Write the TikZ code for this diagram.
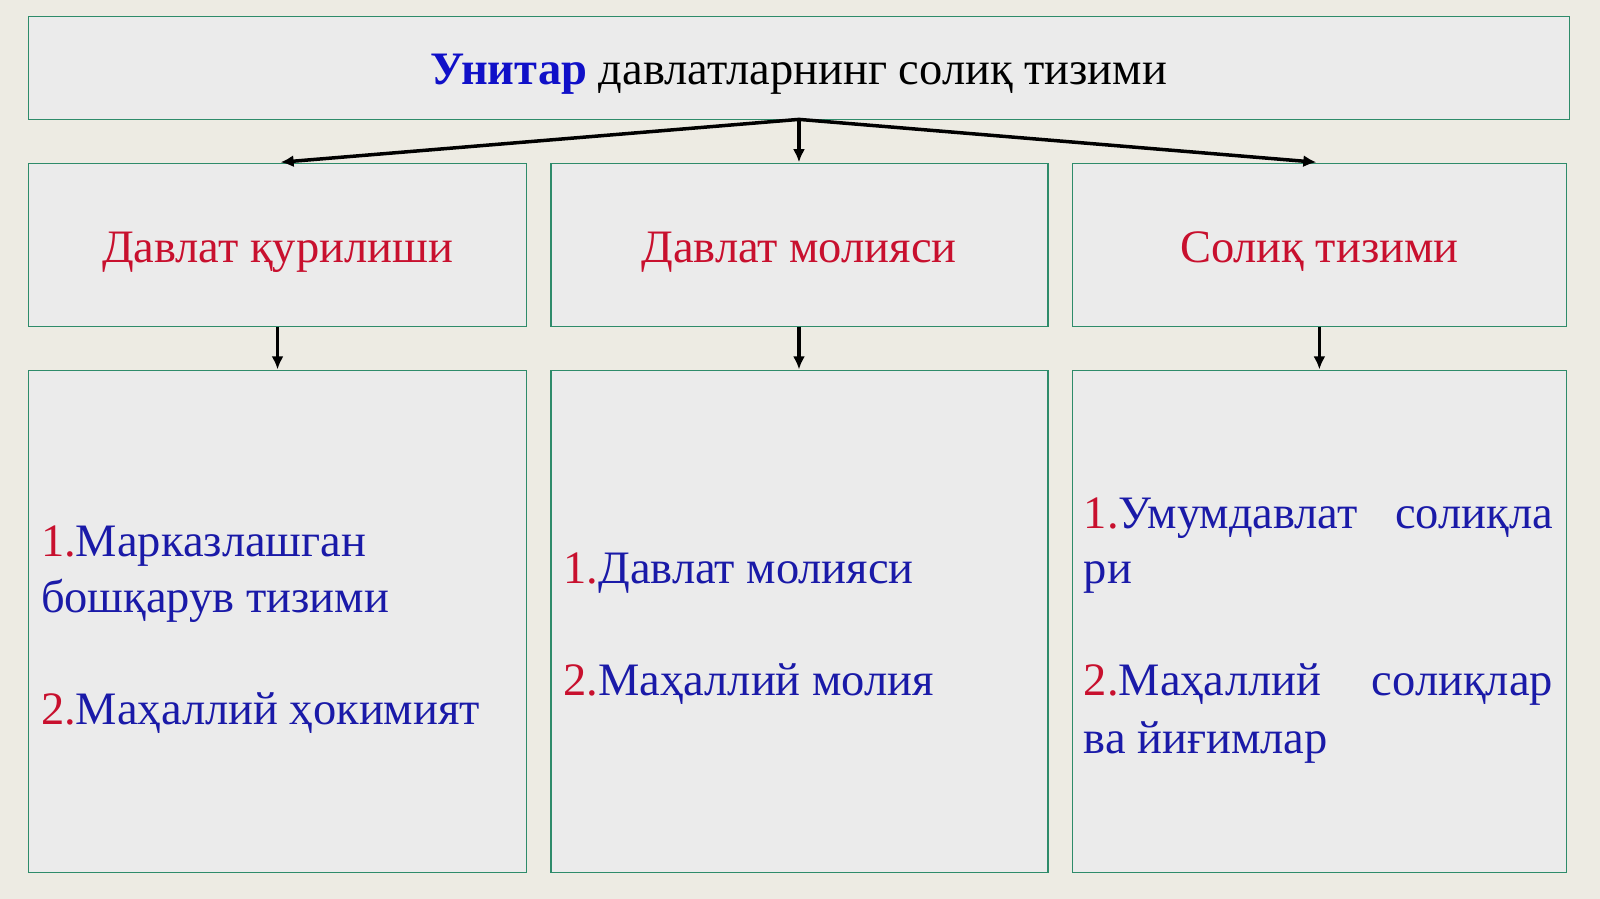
\documentclass[tikz,border=0pt]{standalone}
\usepackage{fontspec}
\usetikzlibrary{arrows.meta}
\setmainfont{Liberation Serif}
\definecolor{bg}{HTML}{EDEBE3}
\definecolor{boxf}{HTML}{EBEBEB}
\definecolor{edge}{HTML}{2E8B6A}
\definecolor{rd}{HTML}{C8102E}
\definecolor{bl}{HTML}{1A1AA8}
\definecolor{tb}{HTML}{1010C8}
\begin{document}
\begin{tikzpicture}[x=1.0204pt,y=-1.0204pt,
  box/.style={draw=edge,fill=boxf,line width=1.5pt},
  ar/.style={-{Latex[length=13pt,width=12pt]},line width=3.5pt},
  t/.style={font=\fontsize{46.5}{54}\selectfont,inner sep=0pt},
  hd/.style={t,text=rd}]
\fill[bg] (0,0) rectangle (1568,881);
\useasboundingbox (0,0) rectangle (1568,881);
\draw[box] (28,16) rectangle (1538,117);
\node[t] (top) at (783,73) {\textcolor{tb}{\textbf{Унитар}} давлатларнинг солиқ тизими};
\coordinate (s) at (783,117);
\foreach \n/\a/\b in {A/28/516,B/540/1027,C/1051/1535}{
  \draw[box] (\a,160) rectangle (\b,320);
  \draw[box] (\a,363) rectangle (\b,855);
}
\node[hd] (h1) at (272,247) {Давлат қурилиши};
\node[hd] (h2) at (783,247) {Давлат молияси};
\node[hd] (h3) at (1293,247) {Солиқ тизими};
\coordinate (e1) at (275,159); \coordinate (e2) at (783,159); \coordinate (e3) at (1290,159);
\draw[ar] (s) -- (e1);
\draw[ar] (s) -- (e3);
\draw[ar] (s) -- (e2);
\coordinate (b1) at (272,320); \coordinate (c1) at (272,362);
\coordinate (b2) at (783,320); \coordinate (c2) at (783,362);
\coordinate (b3) at (1293,320); \coordinate (c3) at (1293,362);
\draw[ar] (b1)--(c1); \draw[ar] (b2)--(c2); \draw[ar] (b3)--(c3);
\begin{scope}[every node/.style={t,text=bl,anchor=base west}]
\node (l1) at (40,545) {\textcolor{rd}{1.}Марказлашган};
\node (l2) at (40,600) {бошқарув тизими};
\node (l3) at (40,710) {\textcolor{rd}{2.}Маҳаллий ҳокимият};
\node (m1) at (552,572) {\textcolor{rd}{1.}Давлат молияси};
\node (m2) at (552,682) {\textcolor{rd}{2.}Маҳаллий молия};
\node (r1) at (1062,518) {\textcolor{rd}{1.}Умумдавлат};
\node[anchor=base east] (r1b) at (1522,518) {солиқла};
\node (r2) at (1062,572) {ри};
\node (r3) at (1062,682) {\textcolor{rd}{2.}Маҳаллий};
\node[anchor=base east] (r3b) at (1522,682) {солиқлар};
\node (r4) at (1062,738) {ва йиғимлар};
\end{scope}
\end{tikzpicture}
\end{document}
